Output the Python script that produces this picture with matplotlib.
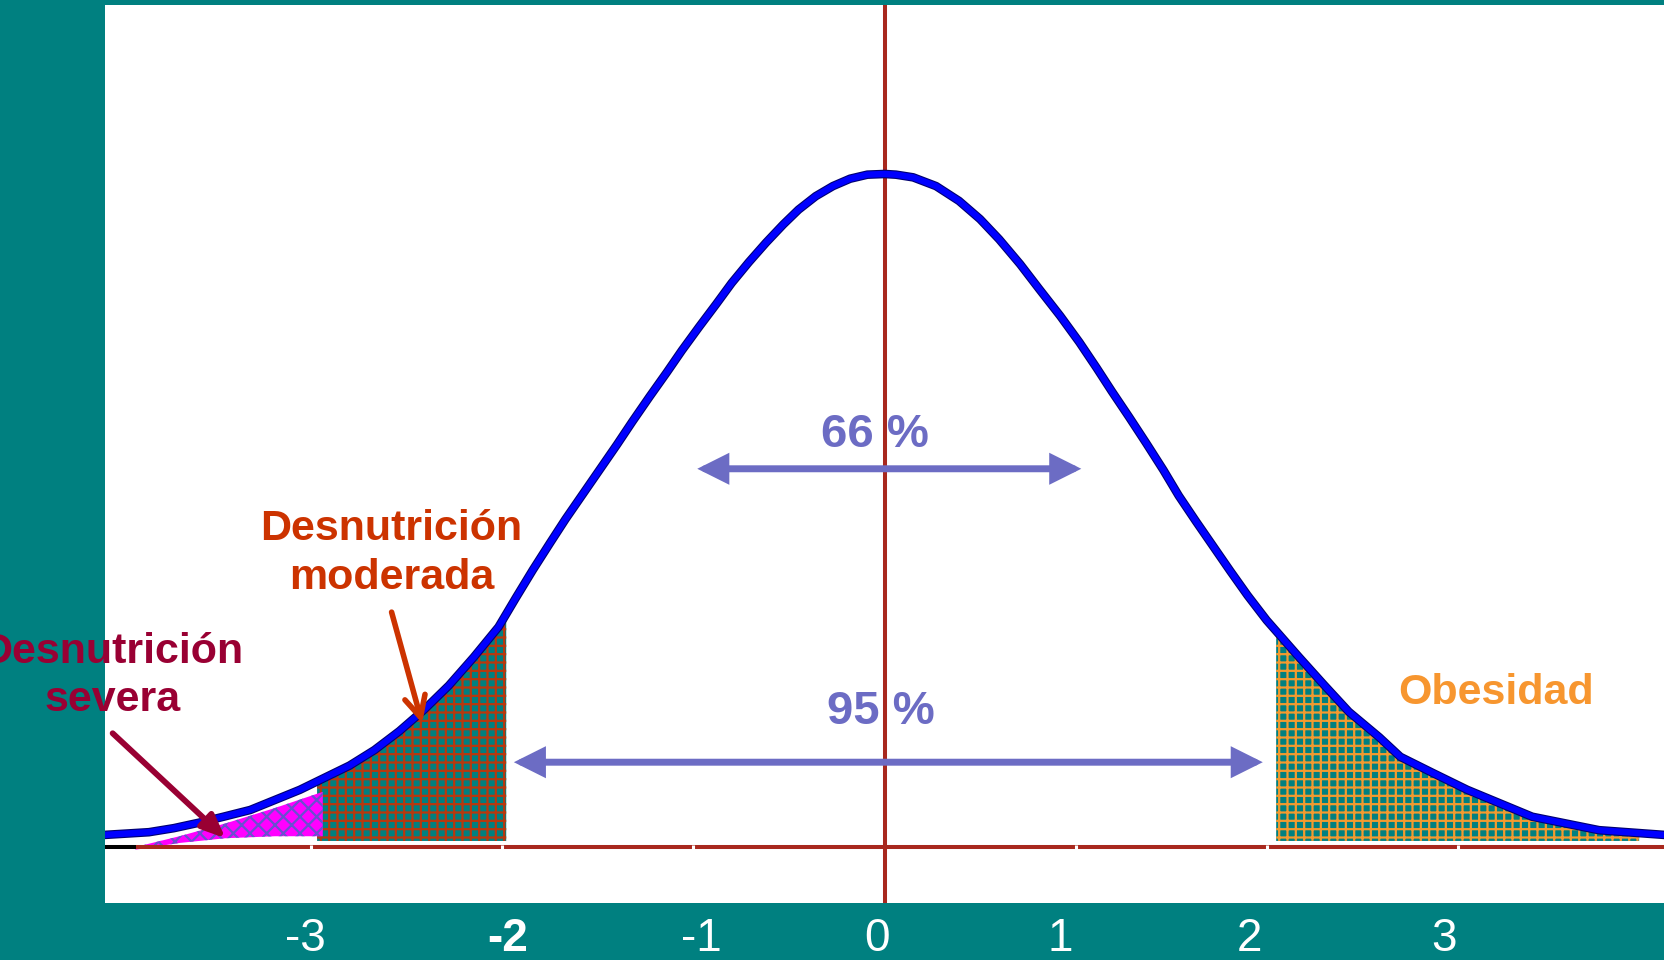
import numpy as np
import matplotlib
matplotlib.use("Agg")
import matplotlib.pyplot as plt
import matplotlib.transforms as mtransforms
from matplotlib.patches import Polygon, FancyArrowPatch, ArrowStyle

plt.rcParams['font.family'] = ['Liberation Sans', 'DejaVu Sans']
plt.rcParams['hatch.linewidth'] = 1.6

# ---- data (x in SD units, y relative to peak height) ----
curve_z = [-4.08, -3.85, -3.72, -3.59, -3.46, -3.32, -3.19, -3.06, -2.93, -2.80,
           -2.67, -2.54, -2.41, -2.28, -2.15, -2.02, -1.93, -1.84, -1.75, -1.67,
           -1.58, -1.49, -1.40, -1.32, -1.23, -1.14, -1.06, -0.97, -0.88, -0.80,
           -0.71, -0.62, -0.53, -0.45, -0.36, -0.27, -0.18, -0.09, 0.0, 0.06,
           0.15, 0.27, 0.39, 0.50, 0.60, 0.71, 0.81, 0.92, 1.02, 1.11,
           1.19, 1.28, 1.37, 1.46, 1.54, 1.63, 1.72, 1.81, 1.90, 2.00,
           2.17, 2.30, 2.43, 2.59, 2.70, 2.87, 3.05, 3.22, 3.39, 3.74,
           4.08]
curve_y = [0.018, 0.022, 0.028, 0.036, 0.045, 0.055, 0.070, 0.085, 0.103, 0.121,
           0.144, 0.172, 0.204, 0.240, 0.282, 0.327, 0.370, 0.412, 0.452, 0.487,
           0.524, 0.561, 0.598, 0.632, 0.669, 0.705, 0.738, 0.773, 0.807, 0.838,
           0.869, 0.898, 0.925, 0.947, 0.967, 0.982, 0.993, 0.999, 1.000, 0.999,
           0.995, 0.982, 0.960, 0.933, 0.903, 0.866, 0.829, 0.789, 0.750, 0.712,
           0.677, 0.639, 0.600, 0.560, 0.522, 0.484, 0.447, 0.410, 0.374, 0.337,
           0.282, 0.241, 0.201, 0.163, 0.134, 0.110, 0.085, 0.065, 0.045, 0.025,
           0.018]

tick_values = [-3, -2, -1, 0, 1, 2, 3]
tick_labels = ['-3', '-2', '-1', '0', '1', '2', '3']
tick_label_x = [-3.03, -1.97, -0.96, -0.04, 0.92, 1.91, 2.93]

# shaded zones: (start, end) in SD units
moderada_range = (-2.97, -1.98)
obesidad_range = (2.05, 3.95)
zone_floor = 0.009

# severe zone outline
severa_z = [-3.92, -3.69, -3.45, -3.19, -2.94]
severa_top = [0.0, 0.016, 0.035, 0.058, 0.082]
severa_bot = [-0.004, 0.006, 0.013, 0.016, 0.016]

# arrows: (x_start, x_end, y)
arrow66 = (-0.98, 1.03, 0.562)
arrow95 = (-1.94, 1.98, 0.126)

TEAL = '#008080'
AXRED = '#A8281E'
SLATE = '#6C6CC4'

fig = plt.figure(figsize=(16.65, 9.6), dpi=100, facecolor=TEAL)
ax = fig.add_axes([105 / 1665, 57 / 960, (1664 - 105) / 1665, (903 - 5) / 960])
ax.set_facecolor('white')
ax.set_xlim(-4.08, 4.08)
ax.set_ylim(-0.0832, 1.2511)
ax.set_xticks([])
ax.set_yticks([])
for s in ax.spines.values():
    s.set_visible(False)

cz = np.array(curve_z)
cy = np.array(curve_y)


def zone_polygon(z0, z1, floor):
    inside = (cz > z0) & (cz < z1)
    zs = np.concatenate([[z0], cz[inside], [z1]])
    ys = np.concatenate([[np.interp(z0, cz, cy)], cy[inside], [np.interp(z1, cz, cy)]])
    top = np.column_stack([zs, ys])
    bottom = np.array([[z1, floor], [z0, floor]])
    return np.vstack([top, bottom])


# shaded zones
ax.add_patch(Polygon(zone_polygon(*moderada_range, zone_floor), closed=True,
                     facecolor=TEAL, edgecolor='#B8380E', hatch='++', linewidth=0, zorder=2))
ax.add_patch(Polygon(zone_polygon(*obesidad_range, zone_floor), closed=True,
                     facecolor=TEAL, edgecolor='#F39A2E', hatch='++', linewidth=0, zorder=2))
sev = np.vstack([np.column_stack([severa_z, severa_top]),
                 np.column_stack([severa_z[::-1], severa_bot[::-1]])])
ax.add_patch(Polygon(sev, closed=True, facecolor='#FF00FF', edgecolor='#6A4FD0',
                     hatch='xx', linewidth=0, zorder=2))

# axis line + white ticks
ax.plot([severa_z[0], 4.08], [0, 0], color=AXRED, lw=2.9, zorder=3, solid_capstyle='butt')
ax.plot([-4.08, severa_z[0]], [0, 0], color='black', lw=2.9, zorder=3, solid_capstyle='butt')
for t in tick_values:
    if t != 0:
        ax.plot([t, t], [0.003, -0.024], color='white', lw=2.2, zorder=4, solid_capstyle='butt')
ax.axvline(0.005, color=AXRED, lw=2.9, zorder=5)

# the bell curve
ax.plot(cz, cy, color='#000070', lw=6.2, zorder=6, solid_joinstyle='round')
ax.plot(cz, cy, color='#0000FF', lw=4.6, zorder=7, solid_joinstyle='round')

# double arrows
for (x0, x1, y) in (arrow66, arrow95):
    ax.add_patch(FancyArrowPatch((x0, y), (x1, y),
                                 arrowstyle=ArrowStyle('<|-|>', head_length=15, head_width=7.5),
                                 mutation_scale=1, color=SLATE, lw=5, shrinkA=0, shrinkB=0,
                                 zorder=8, joinstyle='miter'))

ax.text(-0.05, 0.612, '66 %', color=SLATE, fontsize=34, fontweight='bold',
        ha='center', va='center', zorder=9)
ax.text(-0.02, 0.200, '95 %', color=SLATE, fontsize=34, fontweight='bold',
        ha='center', va='center', zorder=9)

# annotations
ax.text(-2.58, 0.436, 'Desnutrición\nmoderada', color='#CC3300', fontsize=31,
        fontweight='bold', ha='center', va='center', linespacing=1.28, zorder=9)
ax.add_patch(FancyArrowPatch((-2.58, 0.349), (-2.42, 0.184),
                             arrowstyle=ArrowStyle('->', head_length=15, head_width=7.5),
                             mutation_scale=1, color='#CC3300', lw=4.0,
                             shrinkA=0, shrinkB=0, zorder=9))

ax.text(-4.04, 0.254, 'Desnutrición\nsevera', color='#990033', fontsize=31,
        fontweight='bold', ha='center', va='center', linespacing=1.28, zorder=9,
        clip_on=False)
ax.add_patch(FancyArrowPatch((-4.04, 0.169), (-3.45, 0.013),
                             arrowstyle=ArrowStyle('-|>', head_length=14, head_width=6),
                             mutation_scale=1, color='#990033', lw=4.2,
                             shrinkA=0, shrinkB=0, zorder=9))

ax.text(3.20, 0.229, 'Obesidad', color='#F7962F', fontsize=31, fontweight='bold',
        ha='center', va='center', zorder=9)

# tick labels on the teal band
trans = mtransforms.blended_transform_factory(ax.transData, fig.transFigure)
for x, lab in zip(tick_label_x, tick_labels):
    fig.text(x, 9 / 960, lab, transform=trans, color='white', fontsize=33,
             fontweight='bold' if lab == '-2' else 'normal',
             ha='center', va='baseline')

fig.savefig('out.png', dpi=100, facecolor=TEAL)
